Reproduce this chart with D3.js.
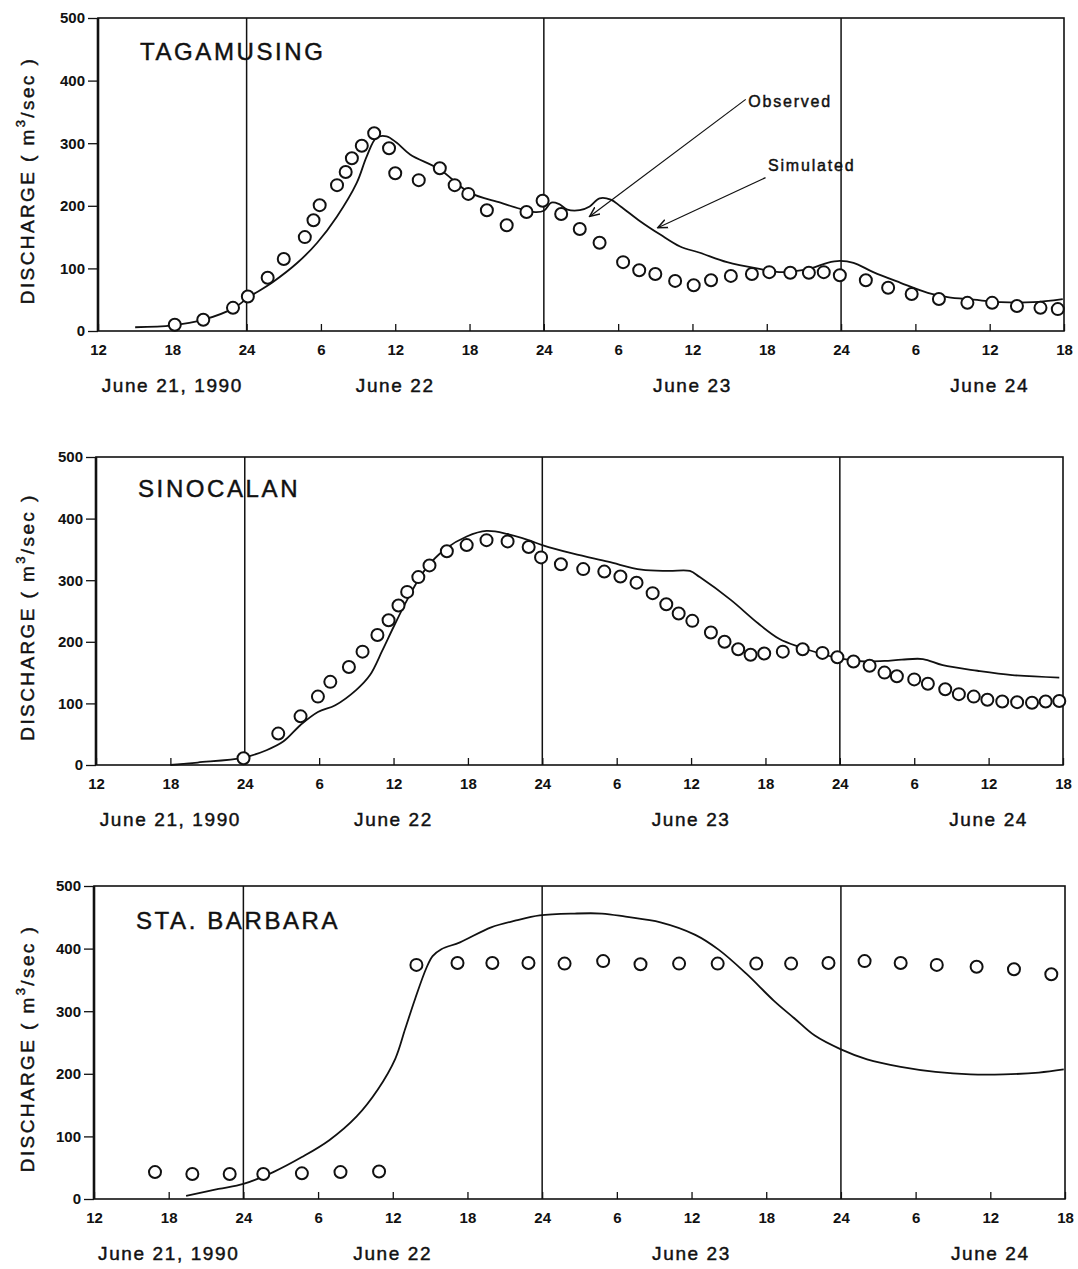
<!DOCTYPE html>
<html>
<head>
<meta charset="utf-8">
<script src="https://cdn.jsdelivr.net/npm/d3@7"></script>
<style>
  html, body { margin: 0; padding: 0; background: #fff; }
  svg text { font-family: "Liberation Sans", Arial, sans-serif; fill: #111; }
  .heavy { stroke: #111; stroke-width: 0.45px; }
</style>
</head>
<body>
<svg id="chart" width="1078" height="1269"></svg>
<script>
// Time axis: hours counted from 00:00 on June 21, 1990
const hourTicks  = [12, 18, 24, 30, 36, 42, 48, 54, 60, 66, 72, 78, 84, 90];
const tickLabels = ["12", "18", "24", "6", "12", "18", "24", "6", "12", "18", "24", "6", "12", "18"];
const dayLines   = [24, 48, 72];
const dayLabels  = ["June 21, 1990", "June 22", "June 23", "June 24"];
const dayLabelHours = [18, 36, 60, 84];
const discharge  = [0, 100, 200, 300, 400, 500];

// Tagamusing
const tagObsHours = [18.2, 20.5, 22.9, 24.1, 25.7, 27.0, 28.7, 29.4, 29.9, 31.3, 32.0, 32.5, 33.3, 34.3, 35.5, 36.0, 37.9, 39.6, 40.8, 41.9, 43.4, 45.0, 46.6, 47.9, 49.4, 50.9, 52.5, 54.4, 55.7, 57.0, 58.6, 60.1, 61.5, 63.1, 64.8, 66.2, 67.9, 69.4, 70.6, 71.9, 74.0, 75.8, 77.7, 79.9, 82.2, 84.2, 86.2, 88.1, 89.5];
const tagObsQ     = [10, 18, 37, 55, 85, 115, 150, 177, 201, 233, 254, 276, 296, 316, 292, 252, 241, 260, 233, 219, 193, 169, 190, 208, 187, 163, 141, 110, 97, 91, 80, 73, 81, 88, 91, 94, 93, 93, 94, 89, 81, 69, 59, 51, 45, 45, 40, 37, 35];
const tagSimHours = [15, 18, 20.5, 23, 24.1, 26.1, 28.1, 29.7, 31.3, 32.9, 33.7, 34.5, 35.3, 36.1, 37.2, 39.6, 42, 44.5, 46.1, 47.3, 48.0, 48.6, 49.2, 49.9, 50.9, 51.7, 52.5, 53.4, 54.2, 55.8, 57.4, 59.0, 60.6, 62.8, 65.2, 67.3, 69.5, 70.9, 71.9, 73.0, 74.6, 76.8, 79.0, 80.6, 82.7, 84.9, 87.5, 89.9];
const tagSimQ     = [6, 9, 18, 37, 53, 78, 109, 141, 183, 237, 279, 309, 311, 301, 282, 258, 221, 205, 195, 190, 192, 205, 203, 194, 193, 199, 212, 210, 199, 175, 154, 135, 125, 110, 100, 94, 100, 109, 112, 109, 94, 77, 61, 54, 50, 46, 46, 51];

// Sinocalan
const sinObsHours = [23.9, 26.7, 28.5, 29.9, 30.9, 32.4, 33.5, 34.7, 35.6, 36.4, 37.1, 38.0, 38.9, 40.3, 41.9, 43.5, 45.2, 46.9, 47.9, 49.5, 51.3, 53.0, 54.3, 55.6, 56.9, 58.0, 59.0, 60.1, 61.6, 62.7, 63.8, 64.8, 65.9, 67.4, 69.0, 70.6, 71.8, 73.1, 74.4, 75.6, 76.6, 78.0, 79.1, 80.5, 81.6, 82.8, 83.9, 85.1, 86.3, 87.5, 88.6, 89.7];
const sinObsQ     = [11, 51, 79, 111, 135, 159, 184, 211, 235, 259, 281, 305, 324, 347, 357, 365, 363, 354, 337, 326, 318, 314, 306, 296, 279, 261, 246, 234, 215, 200, 188, 179, 181, 184, 188, 182, 175, 168, 161, 150, 144, 139, 132, 123, 115, 111, 106, 103, 102, 101, 103, 104];
const sinSimHours = [18, 20.2, 23.9, 25.75, 27.1, 28.5, 29.9, 31.3, 33.0, 34.1, 35.1, 36.0, 37.1, 38.5, 40.2, 41.9, 43.5, 45.2, 46.9, 48, 50.5, 53.3, 56.0, 58.2, 59.9, 60.7, 63.2, 65.4, 67.1, 68.7, 72, 74, 75.6, 77, 78.7, 80.3, 83.1, 85.9, 89.7];
const sinSimQ     = [0, 4, 12, 24, 38, 65, 86, 97, 122, 146, 186, 224, 268, 316, 351, 371, 380, 375, 365, 357, 343, 330, 317, 315, 315, 305, 268, 230, 205, 192, 173, 168, 169, 171, 172, 162, 153, 146, 142];

// Sta. Barbara
const stbObsHours = [16.9, 19.9, 22.9, 25.6, 28.7, 31.8, 34.9, 37.9, 41.2, 44.0, 46.9, 49.8, 52.9, 55.9, 59.0, 62.1, 65.2, 68.0, 71.0, 73.9, 76.8, 79.7, 82.9, 85.9, 88.9];
const stbObsQ     = [43, 40, 40, 40, 41, 43, 44, 374, 377, 377, 377, 376, 380, 375, 376, 376, 376, 376, 377, 380, 377, 374, 371, 367, 359];
const stbSimHours = [19.4, 22, 24, 26.4, 28.7, 30.9, 33.1, 34.8, 36.2, 37.0, 37.8, 38.7, 39.2, 39.9, 41.4, 43.9, 45.9, 47.8, 50.6, 52.8, 54.7, 57.5, 60.3, 62.2, 64.4, 66.6, 68.3, 69.9, 72, 74.1, 76.8, 79.6, 82.4, 85.1, 87.9, 89.9];
const stbSimQ     = [5, 16, 24, 43, 67, 94, 132, 175, 224, 272, 320, 369, 388, 399, 410, 434, 445, 453, 456, 456, 451, 442, 422, 398, 360, 317, 288, 261, 239, 223, 211, 203, 199, 199, 202, 207];

const svg = d3.select("#chart");
svg.append("rect").attr("width", 1078).attr("height", 1269).attr("fill", "#fff");

svg.append("defs").append("marker")
  .attr("id", "arrowhead")
  .attr("viewBox", "0 0 10 10")
  .attr("refX", 9).attr("refY", 5)
  .attr("markerWidth", 9).attr("markerHeight", 9)
  .attr("orient", "auto")
  .append("path")
  .attr("d", "M0,1 L9,5 L0,9")
  .attr("fill", "none").attr("stroke", "#111").attr("stroke-width", 1.4);

const panels = [
  { name: "TAGAMUSING", left: 98, right: 1064, top: 18, bottom: 331, titleY: 60,
    obsH: tagObsHours, obsQ: tagObsQ, simH: tagSimHours, simQ: tagSimQ,
    notes: [
      { text: "Observed", from: [64.3, 370], to: [51.7, 183], textAt: [64.5, 358] },
      { text: "Simulated", from: [65.9, 245], to: [57.2, 165], textAt: [66.1, 255] }
    ] },
  { name: "SINOCALAN", left: 96, right: 1063, top: 457, bottom: 765, titleY: 497,
    obsH: sinObsHours, obsQ: sinObsQ, simH: sinSimHours, simQ: sinSimQ, notes: [] },
  { name: "STA. BARBARA", left: 94, right: 1065, top: 886, bottom: 1199, titleY: 929,
    obsH: stbObsHours, obsQ: stbObsQ, simH: stbSimHours, simQ: stbSimQ, notes: [] }
];

panels.forEach(p => {
  const x = d3.scaleLinear().domain([12, 90]).range([p.left, p.right]);
  const y = d3.scaleLinear().domain([0, 500]).range([p.bottom, p.top]);
  const g = svg.append("g");

  // frame
  g.append("rect")
    .attr("x", p.left).attr("y", p.top)
    .attr("width", p.right - p.left).attr("height", p.bottom - p.top)
    .attr("fill", "none").attr("stroke", "#111").attr("stroke-width", 1.6);
  g.append("line")
    .attr("x1", p.left).attr("x2", p.left).attr("y1", p.top).attr("y2", p.bottom)
    .attr("stroke", "#111").attr("stroke-width", 2.6);

  // midnight separators
  g.selectAll(".day").data(dayLines).join("line")
    .attr("x1", d => x(d)).attr("x2", d => x(d))
    .attr("y1", p.top).attr("y2", p.bottom)
    .attr("stroke", "#111").attr("stroke-width", 1.5);

  // y axis
  const yAxis = d3.axisLeft(y).tickValues(discharge).tickSize(10).tickPadding(3).tickFormat(d3.format("d"));
  const ya = g.append("g").attr("transform", `translate(${p.left},0)`).call(yAxis);
  ya.select(".domain").remove();
  ya.selectAll("line").attr("stroke", "#111").attr("stroke-width", 1.3);
  ya.selectAll("text").attr("font-size", 15).attr("font-weight", "bold")
    .attr("font-family", "'Liberation Sans', Arial, sans-serif").attr("fill", "#111");

  // x axis with inward ticks
  const xAxis = d3.axisBottom(x).tickValues(hourTicks).tickSize(-7).tickPadding(13)
    .tickFormat((d, i) => tickLabels[i]);
  const xa = g.append("g").attr("transform", `translate(0,${p.bottom})`).call(xAxis);
  xa.select(".domain").remove();
  xa.selectAll("line").attr("stroke", "#111").attr("stroke-width", 1.3);
  xa.selectAll("text").attr("font-size", 15).attr("font-weight", "bold")
    .attr("font-family", "'Liberation Sans', Arial, sans-serif").attr("fill", "#111");

  // date labels
  g.selectAll(".date").data(dayLabels).join("text")
    .attr("class", "heavy")
    .attr("x", (d, i) => x(dayLabelHours[i]))
    .attr("y", p.bottom + 61)
    .attr("text-anchor", "middle")
    .attr("font-size", 19).attr("letter-spacing", 1.6)
    .text(d => d);

  // y axis title
  const t = g.append("text")
    .attr("class", "heavy")
    .attr("transform", `translate(34,${(p.top + p.bottom) / 2 + 6}) rotate(-90)`)
    .attr("text-anchor", "middle")
    .attr("font-size", 19).attr("letter-spacing", 2.4);
  t.append("tspan").text("DISCHARGE ( m");
  t.append("tspan").attr("dy", -9).attr("font-size", 13).text("3");
  t.append("tspan").attr("dy", 9).text("/sec )");

  // station name
  g.append("text")
    .attr("class", "heavy")
    .attr("x", p.left + 42).attr("y", p.titleY)
    .attr("font-size", 24).attr("letter-spacing", 2.6)
    .text(p.name);

  // simulated hydrograph
  const sim = p.simH.map((h, i) => [h, p.simQ[i]]);
  g.append("path")
    .datum(sim)
    .attr("fill", "none").attr("stroke", "#111").attr("stroke-width", 1.8)
    .attr("d", d3.line().x(d => x(d[0])).y(d => y(d[1])).curve(d3.curveCatmullRom.alpha(0.5)));

  // observed discharge
  const obs = p.obsH.map((h, i) => [h, p.obsQ[i]]);
  g.selectAll(".obs").data(obs).join("circle")
    .attr("cx", d => x(d[0])).attr("cy", d => y(d[1])).attr("r", 6)
    .attr("fill", "#fff").attr("stroke", "#111").attr("stroke-width", 2);

  // annotations
  p.notes.forEach(n => {
    g.append("line")
      .attr("x1", x(n.from[0])).attr("y1", y(n.from[1]))
      .attr("x2", x(n.to[0])).attr("y2", y(n.to[1]))
      .attr("stroke", "#111").attr("stroke-width", 1.2)
      .attr("marker-end", "url(#arrowhead)");
    g.append("text")
      .attr("class", "heavy")
      .attr("x", x(n.textAt[0])).attr("y", y(n.textAt[1]))
      .attr("font-size", 16).attr("letter-spacing", 1.8)
      .text(n.text);
  });
});
</script>
</body>
</html>
